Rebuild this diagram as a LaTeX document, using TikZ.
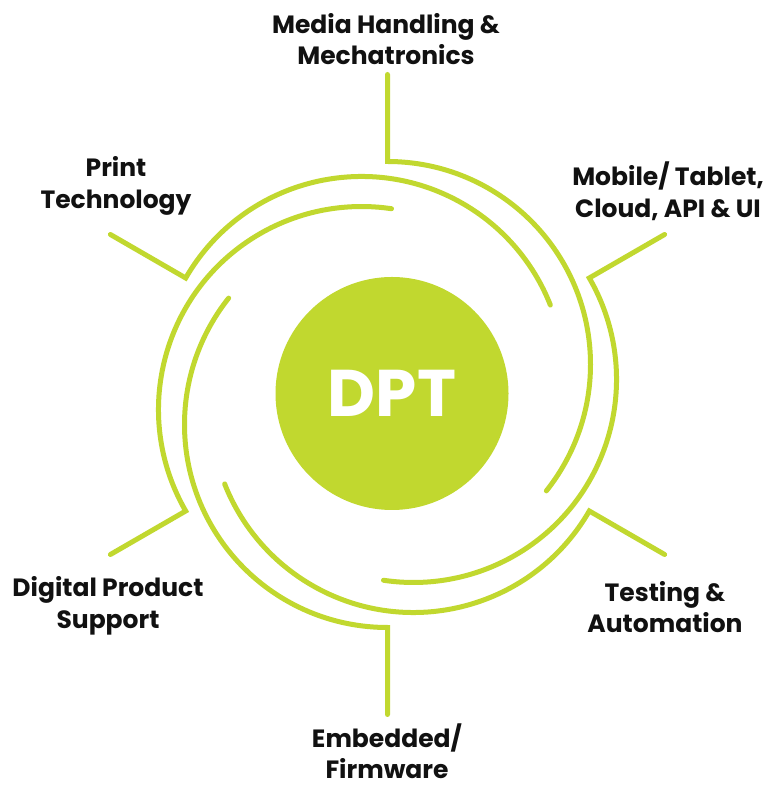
\documentclass[tikz,border=0pt]{standalone}
\usepackage{fontspec}
\setmainfont{Poppins}
\definecolor{dptgreen}{RGB}{193,216,47}
\definecolor{labelink}{RGB}{17,17,17}
\begin{document}
\begin{tikzpicture}[x=1pt,y=1pt,
		ring/.style={dptgreen,line width=5pt,line cap=round,line join=miter},
		area/.style={text=labelink,align=center,font=\bfseries\fontsize{25}{31.5}\selectfont}]
		\useasboundingbox[fill=white] (0,0) rectangle (772,787);
		% set up nodes
		\node[circle,fill=dptgreen,minimum size=233,inner sep=0pt,text=white,
			font=\bfseries\fontsize{66}{66}\selectfont] (dpt) at (392,393.5) {DPT};
		\node[area] (media) at (386,748) {Media Handling \&\\Mechatronics};
		\node[area] (mobile) at (668,596) {Mobile/ Tablet,\\Cloud, API \& UI};
		\node[area] (testing) at (665,180) {Testing \&\\Automation};
		\node[area] (embedded) at (387,36) {Embedded/\\Firmware};
		\node[area] (digital) at (108,181) {Digital Product\\Support};
		\node[area] (print) at (116,601) {Print\\Technology};
		% where the spokes meet the rings
		\coordinate (mediaout) at (387.5,712.5);
		\coordinate (mediain) at (387.5,625.5);
		\coordinate (mobileout) at (664.6,552.5);
		\coordinate (mobilein) at (589.3,509);
		\coordinate (testingout) at (664.6,232.5);
		\coordinate (testingin) at (589.3,276);
		\coordinate (embeddedout) at (387.5,72.5);
		\coordinate (embeddedin) at (387.5,159.5);
		\coordinate (digitalout) at (110.4,232.5);
		\coordinate (digitalin) at (185.7,276);
		\coordinate (printout) at (110.4,552.5);
		\coordinate (printin) at (185.7,509);
		% connect them
		\draw[ring] (mediaout) -- (mediain) arc[start angle=90,end angle=-38.5,radius=203];
		\draw[ring] (mobileout) -- (mobilein) arc[start angle=30,end angle=-98.5,radius=203];
		\draw[ring] (testingout) -- (testingin) arc[start angle=-30,end angle=-158.5,radius=203];
		\draw[ring] (embeddedout) -- (embeddedin) arc[start angle=270,end angle=141.5,radius=203];
		\draw[ring] (digitalout) -- (digitalin) arc[start angle=210,end angle=81.5,radius=203];
		\draw[ring] (printout) -- (printin) arc[start angle=150,end angle=21.5,radius=203];
	\end{tikzpicture}
\end{document}
